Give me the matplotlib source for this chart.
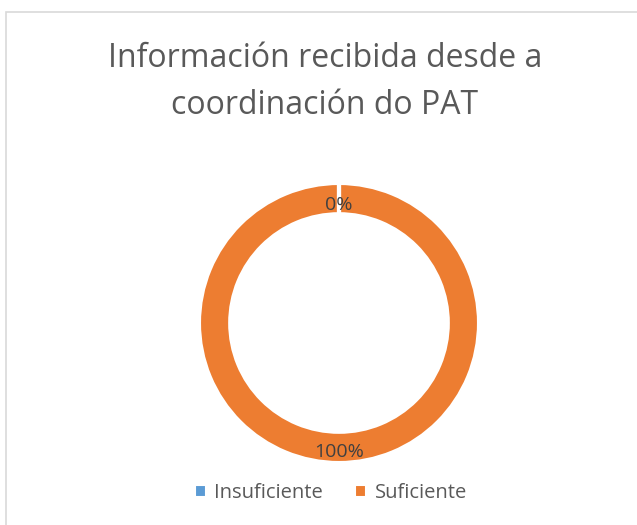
import numpy as np
import matplotlib.pyplot as plt
from matplotlib.patches import Rectangle

categories = ["Insuficiente", "Suficiente"]
values = [0, 100]
pct_labels = ["0%", "100%"]
colors = ["#5B9BD5", "#ED7D31"]

plt.rcParams["font.family"] = ["Open Sans", "DejaVu Sans"]

W, H = 637, 525
fig = plt.figure(figsize=(W / 100, H / 100), dpi=100)

# chart frame (right/bottom edges run off the image)
fig.patches.append(Rectangle((6 / W, -0.1), 1.2, 1 - 12 / H + 0.1,
                             transform=fig.transFigure, fill=False,
                             edgecolor="#D9D9D9", linewidth=1.2))

fig.text(325 / W, 1 - 82 / H, "Información recibida desde a\ncoordinación do PAT",
         ha="center", va="center", fontsize=23, color="#595959",
         linespacing=1.55)

cx, cy, r = 339, 323, 139
ring = 0.21
ax = fig.add_axes([(cx - r) / W, (H - cy - r) / H, 2 * r / W, 2 * r / H])
wedges, _ = ax.pie(values, colors=colors, startangle=90, counterclock=False,
                   radius=1, wedgeprops=dict(width=ring, edgecolor="white",
                                             linewidth=1.5))
ax.set_xlim(-1, 1)
ax.set_ylim(-1, 1)
ax.axis("off")

# slice separators and percent labels
total = sum(values)
start = 90
for v, lab in zip(values, pct_labels):
    a0 = np.deg2rad(start)
    ax.plot([(1 - ring - 0.02) * np.cos(a0), 1.02 * np.cos(a0)],
            [(1 - ring - 0.02) * np.sin(a0), 1.02 * np.sin(a0)],
            color="white", lw=3, solid_capstyle="butt")
    mid = np.deg2rad(start - 360 * v / total / 2)
    ax.text(0.89 * np.cos(mid), 0.89 * np.sin(mid) - 0.04, lab, ha="center",
            va="center", fontsize=14, color="#404040")
    start -= 360 * v / total

leg = fig.legend(wedges, categories, loc="center", bbox_to_anchor=(331 / W, 1 - 493 / H),
                 ncol=2, frameon=False, fontsize=14.5, handlelength=0.55,
                 handleheight=0.55, handletextpad=0.4, columnspacing=1.6)
for t in leg.get_texts():
    t.set_color("#595959")

fig.savefig("out.png", dpi=100)
